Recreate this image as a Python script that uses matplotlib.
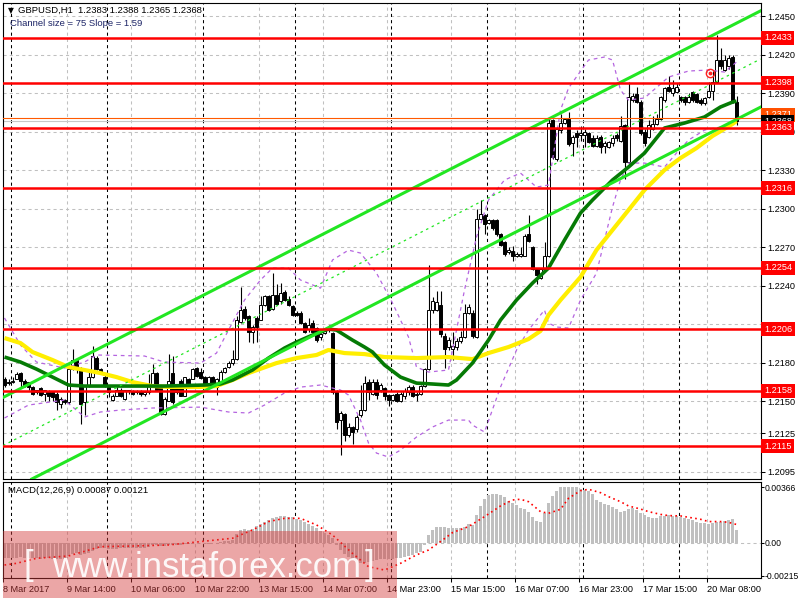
import matplotlib

matplotlib.use("Agg")
import matplotlib.pyplot as plt
from matplotlib.patches import Rectangle
from matplotlib.transforms import blended_transform_factory

plt.rcParams["font.family"] = ["Liberation Sans", "DejaVu Sans"]

# ---- GBPUSD H1 candles (8 Mar 22:00 .. 20 Mar) ----
opens = [
    1.2167, 1.2165, 1.2165, 1.2167, 1.2172, 1.2166, 1.2165, 1.2161, 1.2157, 1.2160,
    1.2156, 1.2158, 1.2157, 1.2156, 1.2148, 1.2151, 1.2149, 1.2175, 1.2182, 1.2176,
    1.2149, 1.2162, 1.2169, 1.2184, 1.2175, 1.2169, 1.2162, 1.2151, 1.2154, 1.2159,
    1.2152, 1.2159, 1.2158, 1.2157, 1.2158, 1.2156, 1.2157, 1.2162, 1.2172, 1.2161,
    1.2140, 1.2150, 1.2172, 1.2162, 1.2166, 1.2154, 1.2167, 1.2167, 1.2176, 1.2173,
    1.2169, 1.2163, 1.2169, 1.2161, 1.2165, 1.2173, 1.2177, 1.2180, 1.2183, 1.2212,
    1.2222, 1.2216, 1.2204, 1.2215, 1.2213, 1.2225, 1.2232, 1.2222, 1.2233, 1.2228,
    1.2235, 1.2230, 1.2224, 1.2219, 1.2219, 1.2211, 1.2206, 1.2211, 1.2207, 1.2200,
    1.2203, 1.2206, 1.2203, 1.2157, 1.2135, 1.2140, 1.2124, 1.2130, 1.2128, 1.2139,
    1.2143, 1.2165, 1.2156, 1.2165, 1.2159, 1.2160, 1.2155, 1.2151, 1.2156, 1.2150,
    1.2154, 1.2157, 1.2161, 1.2155, 1.2156, 1.2162, 1.2175, 1.2221, 1.2221, 1.2225,
    1.2201, 1.2192, 1.2191, 1.2192, 1.2197, 1.2200, 1.2219, 1.2219, 1.2200, 1.2292,
    1.2295, 1.2289, 1.2291, 1.2291, 1.2280, 1.2274, 1.2266, 1.2267, 1.2263, 1.2263,
    1.2263, 1.2280, 1.2270, 1.2253, 1.2246, 1.2253, 1.2263, 1.2369, 1.2339, 1.2361,
    1.2367, 1.2370, 1.2351, 1.2359, 1.2357, 1.2357, 1.2359, 1.2355, 1.2349, 1.2356,
    1.2349, 1.2348, 1.2351, 1.2357, 1.2353, 1.2365, 1.2336, 1.2385, 1.2389, 1.2383,
    1.2360, 1.2356, 1.2362, 1.2366, 1.2370, 1.2385, 1.2395, 1.2390, 1.2391, 1.2387,
    1.2387, 1.2383, 1.2391, 1.2389, 1.2385, 1.2382, 1.2387, 1.2392, 1.2399, 1.2416,
    1.2408, 1.2411, 1.2418, 1.2383,
]
highs = [
    1.2169, 1.2167, 1.2169, 1.2173, 1.2173, 1.2167, 1.2165, 1.2162, 1.2159, 1.2161,
    1.2159, 1.2159, 1.2158, 1.2157, 1.2153, 1.2152, 1.2179, 1.2191, 1.2183, 1.2177,
    1.2163, 1.2174, 1.2193, 1.2185, 1.2176, 1.2172, 1.2163, 1.2156, 1.2161, 1.2160,
    1.2159, 1.2159, 1.2159, 1.2159, 1.2159, 1.2158, 1.2171, 1.2179, 1.2173, 1.2161,
    1.2153, 1.2187, 1.2185, 1.2163, 1.2167, 1.2169, 1.2168, 1.2176, 1.2177, 1.2176,
    1.2170, 1.2170, 1.2170, 1.2168, 1.2174, 1.2177, 1.2181, 1.2190, 1.2216, 1.2239,
    1.2224, 1.2217, 1.2209, 1.2216, 1.2232, 1.2233, 1.2233, 1.2250, 1.2241, 1.2242,
    1.2237, 1.2232, 1.2225, 1.2220, 1.2220, 1.2212, 1.2215, 1.2213, 1.2208, 1.2203,
    1.2207, 1.2209, 1.2204, 1.2159, 1.2142, 1.2141, 1.2133, 1.2131, 1.2139, 1.2163,
    1.2170, 1.2167, 1.2167, 1.2167, 1.2164, 1.2161, 1.2156, 1.2156, 1.2157, 1.2157,
    1.2160, 1.2163, 1.2163, 1.2157, 1.2163, 1.2176, 1.2256, 1.2231, 1.2236, 1.2236,
    1.2203, 1.2200, 1.2204, 1.2199, 1.2205, 1.2226, 1.2226, 1.2221, 1.2300, 1.2307,
    1.2296, 1.2292, 1.2292, 1.2292, 1.2281, 1.2275, 1.2270, 1.2271, 1.2266, 1.2270,
    1.2280, 1.2295, 1.2271, 1.2254, 1.2254, 1.2274, 1.2371, 1.2370, 1.2363, 1.2374,
    1.2371, 1.2375, 1.2357, 1.2361, 1.2364, 1.2362, 1.2360, 1.2357, 1.2357, 1.2357,
    1.2353, 1.2353, 1.2357, 1.2359, 1.2372, 1.2366, 1.2399, 1.2390, 1.2395, 1.2385,
    1.2362, 1.2369, 1.2372, 1.2374, 1.2388, 1.2395, 1.2403, 1.2400, 1.2398, 1.2388,
    1.2388, 1.2390, 1.2392, 1.2390, 1.2386, 1.2387, 1.2399, 1.2407, 1.2435, 1.2425,
    1.2420, 1.2420, 1.2420, 1.2388,
]
lows = [
    1.2161, 1.2163, 1.2164, 1.2167, 1.2161, 1.2161, 1.2159, 1.2155, 1.2156, 1.2154,
    1.2150, 1.2150, 1.2150, 1.2143, 1.2145, 1.2148, 1.2148, 1.2174, 1.2172, 1.2132,
    1.2139, 1.2161, 1.2168, 1.2174, 1.2171, 1.2161, 1.2153, 1.2150, 1.2154, 1.2153,
    1.2151, 1.2156, 1.2155, 1.2156, 1.2154, 1.2154, 1.2156, 1.2161, 1.2158, 1.2139,
    1.2139, 1.2150, 1.2148, 1.2156, 1.2154, 1.2154, 1.2161, 1.2167, 1.2169, 1.2167,
    1.2161, 1.2161, 1.2161, 1.2155, 1.2164, 1.2172, 1.2176, 1.2178, 1.2182, 1.2211,
    1.2213, 1.2196, 1.2195, 1.2196, 1.2213, 1.2224, 1.2220, 1.2221, 1.2225, 1.2226,
    1.2228, 1.2224, 1.2216, 1.2216, 1.2210, 1.2203, 1.2204, 1.2203, 1.2196, 1.2198,
    1.2202, 1.2204, 1.2156, 1.2128, 1.2108, 1.2119, 1.2122, 1.2117, 1.2126, 1.2138,
    1.2142, 1.2151, 1.2155, 1.2152, 1.2157, 1.2151, 1.2146, 1.2150, 1.2149, 1.2149,
    1.2152, 1.2155, 1.2153, 1.2150, 1.2155, 1.2161, 1.2174, 1.2219, 1.2220, 1.2200,
    1.2176, 1.2190, 1.2182, 1.2190, 1.2195, 1.2199, 1.2218, 1.2199, 1.2199, 1.2291,
    1.2280, 1.2288, 1.2283, 1.2279, 1.2271, 1.2263, 1.2265, 1.2259, 1.2262, 1.2262,
    1.2263, 1.2274, 1.2252, 1.2241, 1.2245, 1.2252, 1.2262, 1.2339, 1.2337, 1.2359,
    1.2366, 1.2349, 1.2341, 1.2348, 1.2353, 1.2348, 1.2351, 1.2348, 1.2348, 1.2343,
    1.2343, 1.2347, 1.2349, 1.2353, 1.2352, 1.2323, 1.2335, 1.2383, 1.2382, 1.2357,
    1.2349, 1.2355, 1.2361, 1.2365, 1.2369, 1.2383, 1.2391, 1.2388, 1.2390, 1.2383,
    1.2381, 1.2382, 1.2383, 1.2382, 1.2381, 1.2381, 1.2386, 1.2385, 1.2398, 1.2409,
    1.2407, 1.2409, 1.2382, 1.2365,
]
closes = [
    1.2163, 1.2164, 1.2166, 1.2171, 1.2166, 1.2162, 1.2161, 1.2156, 1.2159, 1.2155,
    1.2159, 1.2154, 1.2153, 1.2149, 1.2152, 1.2149, 1.2175, 1.2182, 1.2176, 1.2148,
    1.2162, 1.2169, 1.2185, 1.2175, 1.2172, 1.2162, 1.2157, 1.2154, 1.2159, 1.2154,
    1.2159, 1.2158, 1.2156, 1.2158, 1.2156, 1.2157, 1.2162, 1.2172, 1.2159, 1.2140,
    1.2152, 1.2166, 1.2149, 1.2157, 1.2154, 1.2169, 1.2162, 1.2175, 1.2170, 1.2168,
    1.2163, 1.2169, 1.2163, 1.2167, 1.2173, 1.2176, 1.2180, 1.2183, 1.2213, 1.2221,
    1.2215, 1.2204, 1.2208, 1.2208, 1.2225, 1.2232, 1.2221, 1.2233, 1.2226, 1.2234,
    1.2229, 1.2225, 1.2217, 1.2217, 1.2211, 1.2204, 1.2209, 1.2204, 1.2198, 1.2202,
    1.2206, 1.2208, 1.2157, 1.2134, 1.2141, 1.2124, 1.2130, 1.2126, 1.2138, 1.2143,
    1.2164, 1.2157, 1.2165, 1.2155, 1.2163, 1.2154, 1.2151, 1.2155, 1.2150, 1.2156,
    1.2158, 1.2161, 1.2154, 1.2156, 1.2162, 1.2175, 1.2221, 1.2228, 1.2227, 1.2202,
    1.2191, 1.2198, 1.2193, 1.2197, 1.2200, 1.2219, 1.2223, 1.2201, 1.2292, 1.2296,
    1.2288, 1.2291, 1.2285, 1.2280, 1.2272, 1.2265, 1.2268, 1.2263, 1.2265, 1.2265,
    1.2279, 1.2275, 1.2253, 1.2248, 1.2253, 1.2263, 1.2367, 1.2340, 1.2362, 1.2367,
    1.2370, 1.2350, 1.2356, 1.2356, 1.2359, 1.2360, 1.2352, 1.2349, 1.2355, 1.2348,
    1.2351, 1.2352, 1.2355, 1.2355, 1.2364, 1.2336, 1.2387, 1.2388, 1.2383, 1.2359,
    1.2351, 1.2365, 1.2366, 1.2370, 1.2387, 1.2394, 1.2392, 1.2394, 1.2395, 1.2385,
    1.2383, 1.2387, 1.2385, 1.2383, 1.2382, 1.2386, 1.2392, 1.2399, 1.2416, 1.2411,
    1.2416, 1.2417, 1.2383, 1.2368,
]

# moving averages (bar index, price)
green_ma_bars = [0, 4, 8, 12, 16, 20, 30, 40, 50, 54, 57, 62, 66, 70, 73, 77, 81, 83, 85, 87,
                 90, 92, 95, 99, 103, 107, 111, 113, 117, 121, 124, 128, 132, 136, 140, 144,
                 147, 152, 156, 160, 165, 170, 175, 179, 182, 183]
green_ma = [1.21844, 1.21805, 1.21750, 1.21688, 1.21626, 1.21618, 1.21618, 1.21618, 1.21626,
            1.21634, 1.21665, 1.21743, 1.21836, 1.21914, 1.21961, 1.22015, 1.22062, 1.22054,
            1.22015, 1.21976, 1.21922, 1.21883, 1.21782, 1.21688, 1.21641, 1.21634, 1.21626,
            1.21665, 1.21797, 1.21976, 1.22132, 1.22288, 1.22420, 1.22537, 1.22755, 1.22966,
            1.23067, 1.23223, 1.23324, 1.23433, 1.23628, 1.23667, 1.23714, 1.23792, 1.23830,
            1.23838]
yellow_ma_bars = [0, 4, 7, 12, 16, 20, 24, 28, 32, 37, 41, 45, 49, 53, 57, 61, 68, 73, 78, 81,
                  85, 90, 95, 103, 111, 117, 121, 126, 131, 134, 136, 139, 144, 148, 156, 160,
                  165, 169, 173, 177, 182, 183]
yellow_ma = [1.21992, 1.21953, 1.21883, 1.21821, 1.21766, 1.21743, 1.21719, 1.21688, 1.21649,
             1.21618, 1.21611, 1.21611, 1.21611, 1.21618, 1.21665, 1.21719, 1.21797, 1.21836,
             1.21860, 1.21899, 1.21875, 1.21867, 1.21844, 1.21836, 1.21844, 1.21828, 1.21875,
             1.21922, 1.21984, 1.22047, 1.22171, 1.22288, 1.22467, 1.22678, 1.22989, 1.23145,
             1.23301, 1.23394, 1.23472, 1.23566, 1.23659, 1.23682]

# bollinger bands (bar index, price)
bb_up_bars = [0, 4, 8, 15, 20, 23, 35, 40, 49, 53, 56, 60, 64, 67, 71, 74, 79, 82, 86, 89, 93,
              97, 101, 103, 106, 111, 115, 118, 121, 125, 129, 133, 136, 139, 141, 146, 150,
              152, 154, 156, 160, 166, 171, 176, 180, 183]
bb_up = [1.22148, 1.21937, 1.21805, 1.21758, 1.21805, 1.21860, 1.21852, 1.21805, 1.21797,
         1.21875, 1.22054, 1.22288, 1.22444, 1.22537, 1.22537, 1.22444, 1.22381, 1.22600,
         1.22677, 1.22654, 1.22498, 1.22265, 1.22000, 1.21766, 1.21727, 1.21743, 1.22366,
         1.22779, 1.23067, 1.23223, 1.23277, 1.23168, 1.23184, 1.23768, 1.23939, 1.24158,
         1.24181, 1.24158, 1.23924, 1.23846, 1.23862, 1.24025, 1.24072, 1.24080, 1.24064,
         1.24142]
bb_lo_bars = [0, 6, 15, 20, 24, 29, 37, 49, 56, 61, 65, 70, 74, 79, 84, 86, 89, 91, 93, 96, 99,
              103, 107, 111, 116, 117, 120, 124, 128, 131, 135, 136, 138, 141, 144, 148, 152,
              154, 156, 160, 165, 168, 171, 175, 179, 183]
bb_lo = [1.21369, 1.21470, 1.21509, 1.21377, 1.21416, 1.21431, 1.21447, 1.21454, 1.21416,
         1.21408, 1.21470, 1.21564, 1.21610, 1.21626, 1.21587, 1.21548, 1.21353, 1.21174,
         1.21096, 1.21065, 1.21119, 1.21221, 1.21299, 1.21353, 1.21353, 1.21314, 1.21260,
         1.21610, 1.21898, 1.22054, 1.22210, 1.22109, 1.22078, 1.22070, 1.22288, 1.22498,
         1.23012, 1.23223, 1.23355, 1.23355, 1.23324, 1.23433, 1.23534, 1.23612, 1.23636,
         1.23667]

# regression channel: size 75 pips, slope 1.59 pips per bar
chan_end_bar = 183
chan_mid_end = 1.2407
chan_slope = 0.000159
chan_half = 0.00375

# horizontal levels
levels = [1.2433, 1.2398, 1.2363, 1.2316, 1.2254, 1.2206, 1.2158, 1.2115]
ask_line = 1.2371
last_price = 1.2368
price_ticks = [1.2450, 1.2420, 1.2390, 1.2360, 1.2330, 1.2300, 1.2270, 1.2240, 1.2210,
               1.2180, 1.2150, 1.2125, 1.2095]

# MACD(12,26,9)
macd_hist = [
    -0.00095, -0.00096, -0.00098, -0.00095, -0.00093, -0.00095, -0.00097, -0.00100, -0.00100,
    -0.00102, -0.00100, -0.00100, -0.00102, -0.00104, -0.00108, -0.00105, -0.00085, -0.00070,
    -0.00068, -0.00078, -0.00075, -0.00068, -0.00050, -0.00040, -0.00035, -0.00035, -0.00038,
    -0.00040, -0.00038, -0.00036, -0.00035, -0.00034, -0.00034, -0.00033, -0.00033, -0.00032,
    -0.00025, -0.00015, -0.00014, -0.00022, -0.00020, -0.00010, -0.00012, -0.00012, -0.00013,
    -0.00005, -0.00005, 0.00002, 0.00002, 0.00000, -0.00003, -0.00004, -0.00003, 0.00000,
    0.00005, 0.00010, 0.00015, 0.00020, 0.00060, 0.00085, 0.00090, 0.00085, 0.00090, 0.00110,
    0.00125, 0.00140, 0.00150, 0.00165, 0.00170, 0.00175, 0.00175, 0.00172, 0.00168, 0.00160,
    0.00150, 0.00138, 0.00125, 0.00110, 0.00095, 0.00080, 0.00065, 0.00050, 0.00030, -0.00010,
    -0.00045, -0.00070, -0.00090, -0.00105, -0.00118, -0.00128, -0.00133, -0.00125, -0.00115,
    -0.00110, -0.00108, -0.00105, -0.00105, -0.00103, -0.00100,
    -0.00100, -0.00094, -0.00085, -0.00078, -0.00068, -0.00057, -0.00013, 0.00052, 0.00085,
    0.00107, 0.00107, 0.00102, 0.00096, 0.00096, 0.00096, 0.00100, 0.00107, 0.00122, 0.00118,
    0.00183, 0.00242, 0.00286, 0.00314, 0.00320, 0.00320, 0.00314, 0.00299, 0.00277, 0.00259,
    0.00249, 0.00227, 0.00220, 0.00205, 0.00172, 0.00146, 0.00140, 0.00194, 0.00259, 0.00307,
    0.00342, 0.00364, 0.00368, 0.00368, 0.00368, 0.00364, 0.00351, 0.00347, 0.00340, 0.00320,
    0.00281, 0.00270, 0.00255, 0.00249, 0.00238, 0.00220, 0.00205, 0.00211, 0.00220, 0.00227,
    0.00216, 0.00198, 0.00181, 0.00172, 0.00161, 0.00166, 0.00177, 0.00179, 0.00181, 0.00179,
    0.00177, 0.00172, 0.00166, 0.00155, 0.00150, 0.00140, 0.00133, 0.00129, 0.00124, 0.00129,
    0.00135, 0.00140, 0.00144, 0.00150, 0.00155, 0.00087,
]
signal_bars = [0, 3, 8, 16, 24, 32, 41, 49, 57, 62, 66, 70, 74, 78, 82, 87, 91, 95, 99, 103,
               106, 109, 112, 116, 120, 124, 127, 129, 131, 134, 136, 139, 141, 144, 146, 149,
               151, 154, 156, 159, 161, 164, 166, 169, 171, 174, 176, 179, 181, 183]
signal = [-0.00144, -0.00133, -0.00100, -0.00085, -0.00024, -0.00020, -0.00013, 0.00009,
          0.00031, 0.00085, 0.00140, 0.00161, 0.00161, 0.00118, 0.00052, -0.00068, -0.00155,
          -0.00177, -0.00133, -0.00078, -0.00046, 0.00009, 0.00068, 0.00107, 0.00172, 0.00242,
          0.00281, 0.00286, 0.00270, 0.00205, 0.00194, 0.00220, 0.00292, 0.00342, 0.00351,
          0.00329, 0.00303, 0.00270, 0.00242, 0.00222, 0.00205, 0.00187, 0.00179, 0.00177,
          0.00168, 0.00155, 0.00140, 0.00140, 0.00135, 0.00121]
macd_ticks = [0.00366, 0.0, -0.00215]
macd_tick_labels = ["0.00366", "0.00", "-0.00215"]

time_label_bars = [0, 16, 32, 48, 64, 80, 96, 112, 128, 144, 160, 176]
time_labels = ["8 Mar 2017", "9 Mar 14:00", "10 Mar 06:00", "10 Mar 22:00", "13 Mar 15:00",
               "14 Mar 07:00", "14 Mar 23:00", "15 Mar 15:00", "16 Mar 07:00",
               "16 Mar 23:00", "17 Mar 15:00", "20 Mar 08:00"]
day_sep_bars = [2, 26, 50, 73, 97, 121, 145, 169]

# ---- figure ----
fig = plt.figure(figsize=(8, 6), dpi=100)
ax = fig.add_axes([3 / 800, 1 - 479 / 600, 757.5 / 800, 476 / 600])
mx = fig.add_axes([3 / 800, 1 - 578 / 600, 757.5 / 800, 96.5 / 600])

x_min, x_max = -0.375, 189
grid_kw = dict(color="#c0c0c0", lw=0.75, ls=(0, (3, 3)), zorder=0.5)
sep_kw = dict(color="black", lw=0.75, ls=(0, (3, 3)), zorder=0.6)

for a in (ax, mx):
    a.set_xlim(x_min, x_max)
    for b in time_label_bars[1:]:
        a.axvline(b - 0.35, **grid_kw)
    for b in day_sep_bars:
        a.axvline(b - 0.35, **sep_kw)
    for s in a.spines.values():
        s.set_linewidth(0.8)

# main panel
ax.set_ylim(1.20894, 1.24602)
for p in price_ticks:
    ax.axhline(p, **grid_kw)

n = len(closes)
idx = list(range(n))
ax.vlines(idx, lows, highs, color="black", lw=0.8, zorder=2)
bottoms = [min(o, c) for o, c in zip(opens, closes)]
heights = [max(abs(c - o), 0.00004) for o, c in zip(opens, closes)]
face = ["white" if c >= o else "black" for o, c in zip(opens, closes)]
ax.bar(idx, heights, bottom=bottoms, width=0.66, color=face, edgecolor="black",
       linewidth=0.7, zorder=2.1)

ax.plot(bb_up_bars, bb_up, color="#b565e0", lw=0.9, ls=(0, (3, 3)), zorder=2.5)
ax.plot(bb_lo_bars, bb_lo, color="#b565e0", lw=0.9, ls=(0, (3, 3)), zorder=2.5)
ax.plot(yellow_ma_bars, yellow_ma, color="#ffee00", lw=3.0, zorder=3, solid_capstyle="butt")
ax.plot(green_ma_bars, green_ma, color="#057a05", lw=2.6, zorder=3.1, solid_capstyle="butt")

chan_green = "#22e622"
ax.axline((chan_end_bar, chan_mid_end + chan_half), slope=chan_slope, color=chan_green,
          lw=2.2, zorder=3.5)
ax.axline((chan_end_bar, chan_mid_end - chan_half), slope=chan_slope, color=chan_green,
          lw=2.2, zorder=3.5)
ax.axline((chan_end_bar, chan_mid_end), slope=chan_slope, color=chan_green, lw=0.9,
          ls=(0, (2, 3)), zorder=3.5)

for lv in levels:
    ax.axhline(lv, color="#ff0000", lw=1.8, zorder=4)
ax.axhline(ask_line, color="#ff5a00", lw=0.8, zorder=3.8)
ax.axhline(last_price, color="#c8c8c8", lw=0.8, zorder=1.5)

# signal marker
ax.plot([176.4], [1.2406], marker="o", ms=6, mfc="none", mec="#ff2020", mew=1.0, zorder=5)
ax.plot([176.4], [1.2406], marker="o", ms=1.8, color="#ff2020", zorder=5)

ax.set_xticks([])
ax.yaxis.tick_right()
ax.set_yticks(price_ticks)
ax.set_yticklabels([f"{p:.4f}" for p in price_ticks])
ax.tick_params(axis="y", length=3, width=0.75, pad=2, labelsize=6.6, direction="out")

tr = blended_transform_factory(ax.transAxes, ax.transData)
lab_x = 1 + 3.5 / 757.5
for lv in levels:
    ax.text(lab_x, lv, f"{lv:.4f}", transform=tr, ha="left", va="center", fontsize=6.6,
            color="white", zorder=10, clip_on=False,
            bbox=dict(boxstyle="square,pad=0.28", fc="#ff0000", ec="none"))
ax.text(lab_x, ask_line + 0.0002, f"{ask_line:.4f}", transform=tr, ha="left", va="center",
        fontsize=6.6, color="white", zorder=9, clip_on=False,
        bbox=dict(boxstyle="square,pad=0.28", fc="#ff5000", ec="none"))
ax.text(lab_x, last_price - 0.00005, f"{last_price:.4f}", transform=tr, ha="left",
        va="center", fontsize=6.6, color="white", zorder=9.5, clip_on=False,
        bbox=dict(boxstyle="square,pad=0.28", fc="black", ec="none"))

ax.text(0.006, 0.984, "\u25bc", transform=ax.transAxes, fontsize=5.5, va="center",
        ha="left", family="DejaVu Sans", zorder=10)
ax.text(0.02, 0.984, "GBPUSD,H1  1.2383 1.2388 1.2365 1.2368", transform=ax.transAxes,
        fontsize=6.8, va="center", ha="left", zorder=10)
ax.text(0.009, 0.957, "Channel size = 75 Slope = 1.59", transform=ax.transAxes,
        fontsize=6.8, va="center", ha="left", color="#1c2466", zorder=10)

# MACD panel
mx.set_ylim(-0.00229, 0.00402)
mx.axhline(0.0, **grid_kw)
mx.bar(idx, macd_hist, width=0.66, color="#c0c0c0", zorder=2)
mx.plot(signal_bars, signal, color="#ff0000", lw=1.2, ls=(0, (1, 2)), zorder=3)
mx.yaxis.tick_right()
mx.set_yticks(macd_ticks)
mx.set_yticklabels(macd_tick_labels)
mx.set_xticks([b - 0.35 for b in time_label_bars])
mx.set_xticklabels(time_labels)
for lbl in mx.get_xticklabels():
    lbl.set_horizontalalignment("left")
mx.tick_params(axis="x", length=3, width=0.75, pad=2, labelsize=6.6, direction="out")
mx.tick_params(axis="y", length=2, width=0.75, pad=1, labelsize=6.2, direction="out")
mx.text(0.006, 0.91, "MACD(12,26,9) 0.00087 0.00121", transform=mx.transAxes,
        fontsize=6.8, va="center", ha="left", zorder=10)

# watermark
fig.add_artist(Rectangle((3 / 800, 2 / 600), 394 / 800, 67 / 600, transform=fig.transFigure,
                         facecolor="#d43a3a", alpha=0.45, edgecolor="none", zorder=20))
fig.text(207 / 800, 1 - 577 / 600, "www.instaforex.com", fontsize=25, color="white",
         ha="center", va="baseline", alpha=0.92, zorder=21)
fig.text(28 / 800, 1 - 566 / 600, "[", fontsize=25, color="white", ha="center",
         va="center", alpha=0.92, zorder=21)
fig.text(370 / 800, 1 - 566 / 600, "]", fontsize=25, color="white", ha="center",
         va="center", alpha=0.92, zorder=21)

fig.savefig("out.png", dpi=100)
